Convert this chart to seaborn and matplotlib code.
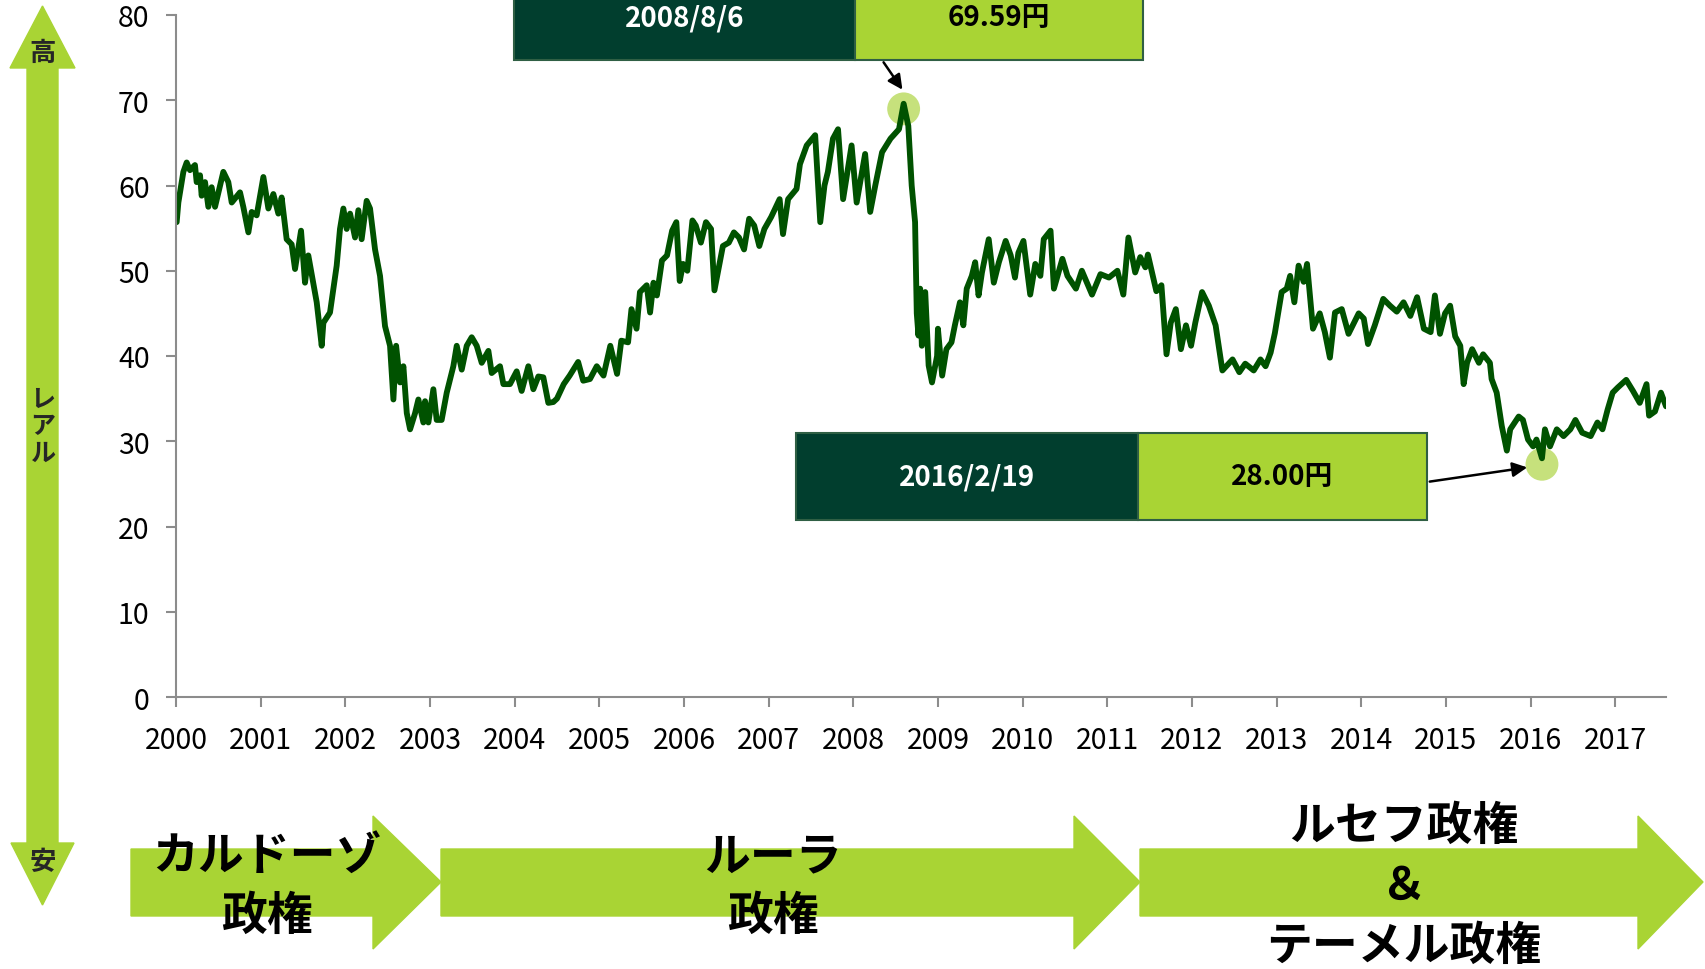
import pandas as pd
import seaborn as sns
import matplotlib.pyplot as plt
from matplotlib.patches import Polygon, Rectangle, FancyArrowPatch

years = [
    2000.008, 2000.028, 2000.087, 2000.126, 2000.165, 2000.224, 2000.244, 2000.284, 2000.303, 2000.343,
    2000.382, 2000.421, 2000.461, 2000.559, 2000.618, 2000.658, 2000.756, 2000.795, 2000.855, 2000.894,
    2000.953, 2001.032, 2001.091, 2001.150, 2001.209, 2001.248, 2001.307, 2001.366, 2001.406, 2001.477,
    2001.524, 2001.563, 2001.662, 2001.721, 2001.741, 2001.819, 2001.898, 2001.937, 2001.977, 2002.016,
    2002.056, 2002.115, 2002.154, 2002.193, 2002.252, 2002.292, 2002.351, 2002.410, 2002.469, 2002.528,
    2002.568, 2002.600, 2002.646, 2002.686, 2002.726, 2002.765, 2002.824, 2002.863, 2002.922, 2002.942,
    2002.981, 2003.040, 2003.079, 2003.138, 2003.198, 2003.276, 2003.316, 2003.375, 2003.434, 2003.493,
    2003.552, 2003.611, 2003.690, 2003.729, 2003.827, 2003.867, 2003.945, 2004.024, 2004.083, 2004.162,
    2004.221, 2004.280, 2004.339, 2004.398, 2004.457, 2004.50, 2004.58, 2004.65, 2004.75, 2004.81,
    2004.89, 2004.97, 2005.05, 2005.13, 2005.21, 2005.26, 2005.34, 2005.38, 2005.44, 2005.48,
    2005.56, 2005.60, 2005.64, 2005.68, 2005.74, 2005.80, 2005.86, 2005.91, 2005.95, 2005.99,
    2006.04, 2006.10, 2006.14, 2006.20, 2006.26, 2006.32, 2006.36, 2006.46, 2006.53, 2006.59,
    2006.65, 2006.71, 2006.77, 2006.83, 2006.89, 2006.95, 2007.03, 2007.13, 2007.17, 2007.23,
    2007.33, 2007.37, 2007.45, 2007.55, 2007.61, 2007.66, 2007.70, 2007.76, 2007.82, 2007.88,
    2007.98, 2008.04, 2008.14, 2008.20, 2008.26, 2008.34, 2008.44, 2008.54, 2008.595, 2008.65,
    2008.69, 2008.73, 2008.75, 2008.77, 2008.79, 2008.81, 2008.85, 2008.89, 2008.93, 2008.99,
    2009.00, 2009.05, 2009.10, 2009.16, 2009.20, 2009.26, 2009.30, 2009.34, 2009.40, 2009.44,
    2009.48, 2009.52, 2009.60, 2009.66, 2009.72, 2009.80, 2009.86, 2009.91, 2009.95, 2010.01,
    2010.09, 2010.15, 2010.21, 2010.25, 2010.33, 2010.37, 2010.47, 2010.53, 2010.63, 2010.70,
    2010.82, 2010.92, 2011.02, 2011.12, 2011.19, 2011.25, 2011.33, 2011.39, 2011.45, 2011.48,
    2011.58, 2011.64, 2011.70, 2011.75, 2011.81, 2011.87, 2011.93, 2011.99, 2012.04, 2012.12,
    2012.20, 2012.28, 2012.36, 2012.48, 2012.56, 2012.63, 2012.73, 2012.81, 2012.87, 2012.93,
    2012.98, 2013.06, 2013.12, 2013.16, 2013.21, 2013.26, 2013.32, 2013.36, 2013.43, 2013.51,
    2013.57, 2013.63, 2013.69, 2013.77, 2013.85, 2013.97, 2014.03, 2014.08, 2014.16, 2014.26,
    2014.34, 2014.42, 2014.50, 2014.58, 2014.66, 2014.74, 2014.82, 2014.87, 2014.93, 2014.99,
    2015.05, 2015.11, 2015.17, 2015.21, 2015.25, 2015.31, 2015.39, 2015.44, 2015.52, 2015.54,
    2015.60, 2015.66, 2015.72, 2015.76, 2015.86, 2015.91, 2015.97, 2016.03, 2016.07, 2016.135,
    2016.17, 2016.23, 2016.31, 2016.39, 2016.47, 2016.53, 2016.61, 2016.71, 2016.79, 2016.85,
    2016.91, 2016.97, 2017.03, 2017.13, 2017.21, 2017.29, 2017.37, 2017.40, 2017.47, 2017.54,
    2017.60,
]
rate = [
    55.7, 58.0, 61.6, 62.7, 61.8, 62.4, 60.4, 61.2, 58.8, 60.4,
    57.5, 59.8, 57.5, 61.6, 60.4, 58.0, 59.2, 57.5, 54.5, 56.9,
    56.5, 61.0, 57.3, 59.0, 56.7, 58.6, 53.7, 53.1, 50.2, 54.7,
    48.6, 51.8, 46.3, 41.2, 43.9, 45.1, 50.6, 54.9, 57.3, 54.9,
    56.7, 53.9, 57.1, 53.7, 58.2, 57.3, 52.5, 49.4, 43.5, 41.2,
    34.9, 41.2, 36.9, 38.8, 33.3, 31.4, 33.3, 34.9, 32.2, 34.7,
    32.2, 36.1, 32.5, 32.5, 35.7, 38.8, 41.2, 38.4, 41.2, 42.2,
    41.2, 39.2, 40.6, 38.0, 38.8, 36.7, 36.7, 38.2, 35.9, 38.8,
    36.1, 37.6, 37.5, 34.5, 34.6, 35.0, 36.7, 37.7, 39.3, 37.1,
    37.3, 38.8, 37.7, 41.2, 37.9, 41.8, 41.6, 45.5, 43.2, 47.5,
    48.3, 45.1, 48.6, 47.1, 51.2, 51.8, 54.7, 55.7, 48.8, 50.8,
    50.0, 55.9, 55.3, 53.3, 55.7, 54.9, 47.7, 52.9, 53.3, 54.5,
    53.9, 52.5, 56.1, 55.3, 52.9, 54.9, 56.3, 58.4, 54.3, 58.4,
    59.6, 62.5, 64.7, 65.9, 55.7, 60.0, 61.6, 65.5, 66.6, 58.4,
    64.7, 58.0, 63.7, 56.9, 60.0, 63.9, 65.5, 66.6, 69.59, 67.0,
    60.0, 55.7, 45.0, 42.4, 47.9, 41.2, 47.5, 38.9, 36.9, 40.0,
    43.2, 37.7, 40.8, 41.6, 43.6, 46.3, 43.6, 47.9, 49.4, 51.0,
    47.1, 49.8, 53.7, 48.6, 51.0, 53.5, 51.8, 49.2, 52.1, 53.5,
    47.2, 50.8, 49.4, 53.7, 54.7, 47.9, 51.4, 49.4, 47.9, 50.0,
    47.2, 49.6, 49.2, 50.0, 47.2, 53.9, 49.8, 51.6, 50.4, 51.9,
    47.6, 48.3, 40.2, 43.9, 45.5, 40.8, 43.6, 41.2, 43.9, 47.5,
    45.9, 43.6, 38.3, 39.6, 38.1, 39.1, 38.3, 39.6, 38.8, 40.4,
    42.7, 47.5, 47.9, 49.4, 46.3, 50.6, 48.7, 50.8, 43.2, 45.0,
    42.8, 39.8, 45.1, 45.5, 42.6, 45.0, 44.4, 41.4, 43.6, 46.7,
    45.9, 45.2, 46.3, 44.7, 46.9, 43.2, 42.8, 47.1, 42.6, 45.0,
    45.9, 42.3, 41.2, 36.7, 39.2, 40.8, 39.2, 40.2, 39.2, 37.3,
    35.7, 31.8, 28.9, 31.4, 32.9, 32.5, 30.2, 29.4, 30.2, 28.0,
    31.4, 29.4, 31.4, 30.6, 31.4, 32.5, 31.0, 30.6, 32.2, 31.4,
    33.7, 35.7, 36.3, 37.2, 35.9, 34.5, 36.7, 33.0, 33.5, 35.7,
    34.1,
]

x_ticks = list(range(2000, 2018))
y_ticks = list(range(0, 81, 10))

# high / low call-outs
high_x, high_label, high_value = 2008.595, "2008/8/6", "69.59円"
low_x, low_label, low_value = 2016.135, "2016/2/19", "28.00円"
high_y, low_y = 69.59, 28.00

regimes = [["カルドーゾ", "政権"], ["ルーラ", "政権"], ["ルセフ政権", "＆", "テーメル政権"]]

df = pd.DataFrame({"year": years, "rate": rate})

LINE = "#005200"
LIME = "#a9d434"
DARK = "#013e2e"

sns.set_theme(style="white")
plt.rcParams["font.family"] = ["Noto Sans CJK JP", "DejaVu Sans"]

W, H = 1706, 970
fig = plt.figure(figsize=(W / 100, H / 100), dpi=100)


def fp(x, y):
    # pixel position measured from the top-left corner -> figure fraction
    return (x / W, 1 - y / H)


ax = fig.add_axes([176 / W, 1 - 698 / H, (1666 - 176) / W, (698 - 16) / H])

# highlight circles under the line
ax.scatter([high_x, low_x], [high_y - 0.6, low_y - 0.7], s=560, color="#c6e17c",
           edgecolor="none", zorder=1)
sns.lineplot(data=df, x="year", y="rate", color=LINE, lw=4.2, ax=ax,
             estimator=None, sort=False, zorder=2)

ax.set_xlim(2000, 2017.6)
ax.set_ylim(0, 80)
ax.set_xticks(x_ticks)
ax.set_yticks(y_ticks)
ax.set_xticklabels([str(t) for t in x_ticks])
ax.set_xlabel("")
ax.set_ylabel("")
sns.despine(ax=ax)
for s in ["left", "bottom"]:
    ax.spines[s].set_color("#8c8c8c")
    ax.spines[s].set_linewidth(1.5)
ax.tick_params(axis="both", direction="out", length=7, width=1.5, color="#8c8c8c",
               labelsize=20.5, labelcolor="black")
ax.tick_params(axis="y", pad=12, left=True)
ax.tick_params(axis="x", pad=13, bottom=True)

# left "high / low" double arrow
arrow_pts = [(42.5, 7), (75, 69), (58, 69), (58, 844), (74, 844), (42.5, 906),
             (11, 844), (27, 844), (27, 69), (10, 69)]
fig.add_artist(Polygon([fp(*p) for p in arrow_pts], closed=True, color=LIME,
                       transform=fig.transFigure))
fig.text(*fp(43, 53), "高", ha="center", va="center", fontsize=19, fontweight="bold")
fig.text(*fp(43, 863), "安", ha="center", va="center", fontsize=19, fontweight="bold")
for i, ch in enumerate("レアル"):
    fig.text(*fp(43, 400 + i * 27), ch, ha="center", va="center", fontsize=18,
             fontweight="bold")

# regime block arrows along the bottom
blocks = [(131, 373, 441), (441, 1074, 1140), (1140, 1638, 1703)]
centers = [267, 773, 1404]
for (x0, x1, x2), cx, lines in zip(blocks, centers, regimes):
    pts = [(x0, 850), (x1, 850), (x1, 817), (x2, 883), (x1, 950), (x1, 917), (x0, 917)]
    fig.add_artist(Polygon([fp(*p) for p in pts], closed=True, color=LIME,
                           transform=fig.transFigure))
    y0 = 887 - (len(lines) - 1) * 30
    for j, line in enumerate(lines):
        fig.text(*fp(cx, y0 + j * 60), line, ha="center", va="center", fontsize=33,
                 fontweight="bold", color="black")


# call-out boxes
def callout(x0, xm, x1, y0, y1, date, value):
    fig.add_artist(Rectangle(fp(x0, y1), (xm - x0) / W, (y1 - y0) / H, facecolor=DARK,
                             edgecolor="#2f5f44", lw=1.5, transform=fig.transFigure))
    fig.add_artist(Rectangle(fp(xm, y1), (x1 - xm) / W, (y1 - y0) / H, facecolor=LIME,
                             edgecolor="#2f5f44", lw=1.5, transform=fig.transFigure))
    cy = (y0 + y1) / 2
    fig.text(*fp((x0 + xm) / 2, cy), date, ha="center", va="center", fontsize=20,
             fontweight="bold", color="white")
    fig.text(*fp((xm + x1) / 2, cy), value, ha="center", va="center", fontsize=20,
             fontweight="bold", color="black")


callout(514, 855, 1143, -25, 61, high_label, high_value)
callout(796, 1138, 1427, 434, 521, low_label, low_value)

fig.add_artist(FancyArrowPatch(fp(882, 61), fp(904, 93), arrowstyle="-|>", mutation_scale=22,
                               lw=1.8, color="black", transform=fig.transFigure))
fig.add_artist(FancyArrowPatch(fp(1427, 483), fp(1530, 468), arrowstyle="-|>", mutation_scale=22,
                               lw=1.8, color="black", transform=fig.transFigure))

plt.savefig("out.png", dpi=100)
